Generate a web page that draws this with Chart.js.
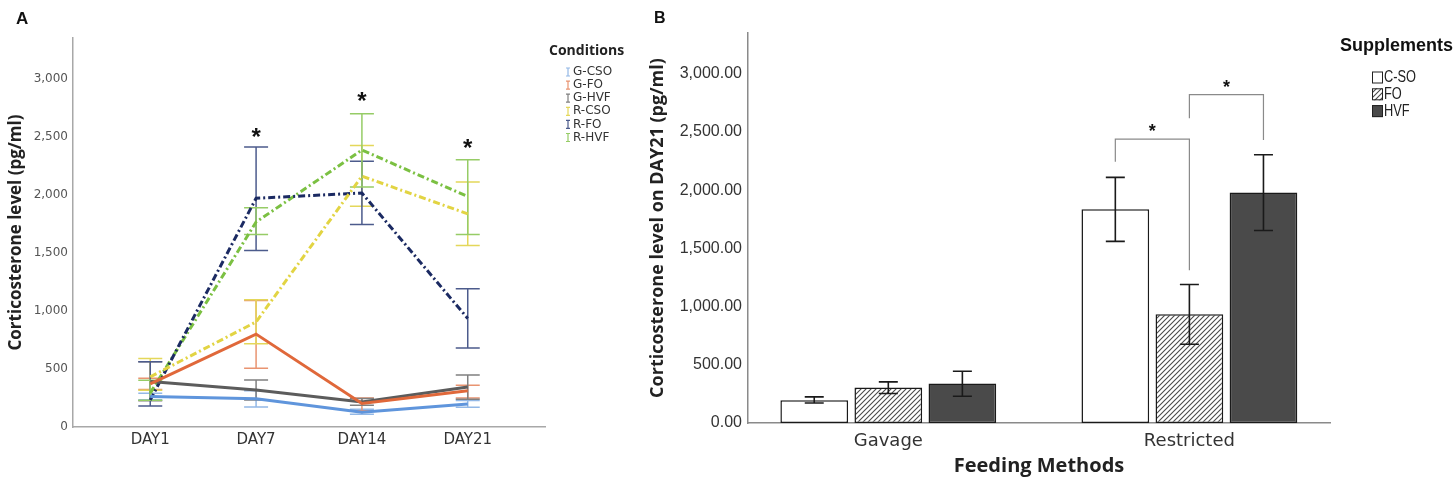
<!DOCTYPE html>
<html>
<head>
<meta charset="utf-8">
<script src="https://cdn.jsdelivr.net/npm/chart.js@4.4.1/dist/chart.umd.min.js"></script>
<style>
  html, body { margin: 0; padding: 0; background: #fff; }
  #wrap { position: relative; width: 1455px; height: 490px; }
  #chartA { position: absolute; left: 0; top: 0; }
  #chartB { position: absolute; left: 640px; top: 0; }
</style>
</head>
<body>
<div id="wrap">
  <canvas id="chartA" width="640" height="490"></canvas>
  <canvas id="chartB" width="815" height="490"></canvas>
</div>
<script>
// ---- panel A data ----
let days       = ['DAY1', 'DAY7', 'DAY14', 'DAY21'];
let conditions = ['G-CSO', 'G-FO', 'G-HVF', 'R-CSO', 'R-FO', 'R-HVF'];
let yTicksA    = [0, 500, 1000, 1500, 2000, 2500, 3000];

let gCsoMean = [262, 243, 128, 198];
let gCsoLow  = [235, 172, 110, 170];
let gCsoHigh = [290, 312, 152, 228];

let gFoMean  = [372, 800, 203, 312];
let gFoLow   = [322, 505, 140, 250];
let gFoHigh  = [420, 1090, 250, 360];

let gHvfMean = [392, 318, 215, 345];
let gHvfLow  = [225, 232, 188, 240];
let gHvfHigh = [562, 404, 245, 447];

let rCsoMean = [432, 905, 2160, 1836];
let rCsoLow  = [316, 717, 1902, 1562];
let rCsoHigh = [590, 1095, 2425, 2110];

let rFoMean  = [232, 1970, 2015, 935];
let rFoLow   = [181, 1521, 1744, 680];
let rFoHigh  = [562, 2412, 2288, 1190];

let rHvfMean = [292, 1765, 2385, 1985];
let rHvfLow  = [230, 1657, 2066, 1657];
let rHvfHigh = [403, 1888, 2698, 2302];

let starDays   = [1, 2, 3];
let starValues = [2540, 2845, 2445];

// ---- panel B data ----
let methods     = ['Gavage', 'Restricted'];
let supplements = ['C-SO', 'FO', 'HVF'];
let yTicksB     = [0, 500, 1000, 1500, 2000, 2500, 3000];

let csoMean = [195, 1837];
let csoLow  = [172, 1560];
let csoHigh = [224, 2110];

let foMean  = [304, 935];
let foLow   = [253, 677];
let foHigh  = [353, 1190];

let hvfMean = [339, 1981];
let hvfLow  = [230, 1654];
let hvfHigh = [445, 2304];

// significance brackets, all in the Restricted group
let bracketFrom     = [0, 1];
let bracketTo       = [1, 2];
let bracketTop      = [2438, 2820];
let bracketLeftEnd  = [2244, 2617];
let bracketRightEnd = [1313, 2430];
let bracketStar     = [2540, 2920];

// ---- styles ----
let lineColors = ['#5f95dc', '#e0683a', '#5c5c5c', '#e2d443', '#1b2a62', '#7bc042'];
let errColors  = ['#93b8e6', '#e99471', '#808080', '#e4d75a', '#4c5b8c', '#96cc66'];

let meansA = [gCsoMean, gFoMean, gHvfMean, rCsoMean, rFoMean, rHvfMean];
let lowsA  = [gCsoLow, gFoLow, gHvfLow, rCsoLow, rFoLow, rHvfLow];
let highsA = [gCsoHigh, gFoHigh, gHvfHigh, rCsoHigh, rFoHigh, rHvfHigh];

let meansB = [csoMean, foMean, hvfMean];
let lowsB  = [csoLow, foLow, hvfLow];
let highsB = [csoHigh, foHigh, hvfHigh];

const SANS = '"DejaVu Sans", sans-serif';
const LIB  = '"Liberation Sans", Arial, sans-serif';
const BOLD = '"Open Sans", "Liberation Sans", sans-serif';

function drawStar(ctx, x, yc, size) {
  ctx.font = 'bold ' + size + 'px ' + LIB;
  ctx.textAlign = 'center';
  ctx.textBaseline = 'alphabetic';
  let m = ctx.measureText('*');
  ctx.fillStyle = '#111';
  ctx.fillText('*', x, yc + (m.actualBoundingBoxAscent - m.actualBoundingBoxDescent) / 2);
}

// ---------------- panel A ----------------
const panelA = {
  id: 'panelA',
  beforeDatasetsDraw(chart) {
    const ctx = chart.ctx, y = chart.scales.y;
    chart.data.datasets.forEach((ds, i) => {
      const meta = chart.getDatasetMeta(i);
      ctx.save();
      ctx.strokeStyle = errColors[i];
      ctx.lineWidth = 1.5;
      meta.data.forEach((pt, j) => {
        const top = y.getPixelForValue(highsA[i][j]);
        const bot = y.getPixelForValue(lowsA[i][j]);
        ctx.beginPath();
        ctx.moveTo(pt.x, top); ctx.lineTo(pt.x, bot);
        ctx.moveTo(pt.x - 12, top); ctx.lineTo(pt.x + 12, top);
        ctx.moveTo(pt.x - 12, bot); ctx.lineTo(pt.x + 12, bot);
        ctx.stroke();
      });
      ctx.restore();
    });
  },
  afterDraw(chart) {
    const ctx = chart.ctx, x = chart.scales.x, y = chart.scales.y;
    ctx.save();
    starDays.forEach((d, k) => drawStar(ctx, x.getPixelForValue(d), y.getPixelForValue(starValues[k]), 24));

    // panel letter
    ctx.fillStyle = '#111';
    ctx.font = 'bold 17px ' + LIB;
    ctx.textAlign = 'left';
    ctx.textBaseline = 'middle';
    ctx.fillText('A', 16, 19);

    // legend
    ctx.font = 'bold 14px ' + BOLD;
    ctx.fillStyle = '#222';
    ctx.fillText('Conditions', 549, 51);
    ctx.font = '12px ' + SANS;
    conditions.forEach((name, i) => {
      const yc = 72 + i * 13.1;
      ctx.strokeStyle = errColors[i];
      ctx.lineWidth = 1.2;
      ctx.beginPath();
      ctx.moveTo(568, yc - 4); ctx.lineTo(568, yc + 4);
      ctx.moveTo(566, yc - 4); ctx.lineTo(570, yc - 4);
      ctx.moveTo(566, yc + 4); ctx.lineTo(570, yc + 4);
      ctx.stroke();
      ctx.fillStyle = '#333';
      ctx.fillText(name, 573, yc);
    });
    ctx.restore();
  }
};

new Chart(document.getElementById('chartA'), {
  type: 'line',
  data: {
    datasets: conditions.map((name, i) => ({
      label: name,
      data: meansA[i].map((v, j) => ({ x: j, y: v })),
      borderColor: lineColors[i],
      borderWidth: 3,
      borderDash: i >= 3 ? [7, 3, 2, 3] : [],
      pointRadius: 0,
      fill: false,
      tension: 0
    }))
  },
  options: {
    responsive: false,
    animation: false,
    layout: { padding: { left: 0, right: 95, top: 38, bottom: 0 } },
    plugins: { legend: { display: false }, tooltip: { enabled: false } },
    scales: {
      x: {
        type: 'linear',
        offset: false,
        min: -0.73,
        max: 3.73,
        afterBuildTicks: s => { s.ticks = days.map((d, j) => ({ value: j })); },
        afterFit: s => { s.height = 63; },
        ticks: { callback: v => days[v], font: { family: SANS, size: 15 }, color: '#333', padding: 4, maxRotation: 0 },
        grid: { display: false, drawTicks: false },
        border: { color: '#a8a8a8', width: 1.5 }
      },
      y: {
        min: 0,
        max: 3350,
        afterBuildTicks: s => { s.ticks = yTicksA.map(v => ({ value: v })); },
        afterFit: s => { s.width = 73; },
        ticks: { callback: v => v.toLocaleString('en-US'), font: { family: SANS, size: 12 }, color: '#555', padding: 5 },
        grid: { display: false, drawTicks: false },
        border: { color: '#a8a8a8', width: 1.5 },
        title: {
          display: true,
          text: 'Corticosterone level (pg/ml)',
          font: { family: BOLD, size: 17, weight: 'bold' },
          color: '#222',
          padding: { top: 6, bottom: 0 }
        }
      }
    }
  },
  plugins: [panelA]
});

// ---------------- panel B ----------------
const ctxB = document.getElementById('chartB').getContext('2d');

function hatch(ctx) {
  const c = document.createElement('canvas');
  c.width = 5; c.height = 5;
  const g = c.getContext('2d');
  g.fillStyle = '#fff';
  g.fillRect(0, 0, 5, 5);
  g.strokeStyle = '#4a4a4a';
  g.lineWidth = 1.1;
  g.beginPath();
  g.moveTo(0, 5); g.lineTo(5, 0);
  g.moveTo(-1, 1); g.lineTo(1, -1);
  g.moveTo(4, 6); g.lineTo(6, 4);
  g.stroke();
  return ctx.createPattern(c, 'repeat');
}
const hatchFill = hatch(ctxB);
let barFills = ['#ffffff', hatchFill, '#4a4a4a'];

const panelB = {
  id: 'panelB',
  afterDatasetsDraw(chart) {
    const ctx = chart.ctx, y = chart.scales.y;
    ctx.save();
    ctx.strokeStyle = '#1a1a1a';
    ctx.lineWidth = 1.6;
    chart.data.datasets.forEach((ds, i) => {
      chart.getDatasetMeta(i).data.forEach((bar, j) => {
        const top = y.getPixelForValue(highsB[i][j]);
        const bot = y.getPixelForValue(lowsB[i][j]);
        ctx.beginPath();
        ctx.moveTo(bar.x, top); ctx.lineTo(bar.x, bot);
        ctx.moveTo(bar.x - 9.5, top); ctx.lineTo(bar.x + 9.5, top);
        ctx.moveTo(bar.x - 9.5, bot); ctx.lineTo(bar.x + 9.5, bot);
        ctx.stroke();
      });
    });

    // brackets
    ctx.strokeStyle = '#8a8a8a';
    ctx.lineWidth = 1.2;
    bracketFrom.forEach((f, k) => {
      const x1 = chart.getDatasetMeta(f).data[1].x;
      const x2 = chart.getDatasetMeta(bracketTo[k]).data[1].x;
      const yt = y.getPixelForValue(bracketTop[k]);
      ctx.beginPath();
      ctx.moveTo(x1, y.getPixelForValue(bracketLeftEnd[k]));
      ctx.lineTo(x1, yt);
      ctx.lineTo(x2, yt);
      ctx.lineTo(x2, y.getPixelForValue(bracketRightEnd[k]));
      ctx.stroke();
      drawStar(ctx, (x1 + x2) / 2, y.getPixelForValue(bracketStar[k]), 18);
    });
    ctx.restore();
  },
  afterDraw(chart) {
    const ctx = chart.ctx;
    ctx.save();
    ctx.fillStyle = '#111';
    ctx.font = 'bold 16px ' + LIB;
    ctx.textAlign = 'left';
    ctx.textBaseline = 'middle';
    ctx.fillText('B', 14, 19);

    ctx.font = 'bold 18px ' + LIB;
    ctx.fillText('Supplements', 700, 46);
    ctx.font = '16px ' + LIB;
    supplements.forEach((name, i) => {
      const yc = 77.5 + i * 16.8;
      ctx.fillStyle = barFills[i];
      ctx.fillRect(732, yc - 6, 11, 12);
      ctx.strokeStyle = '#222';
      ctx.lineWidth = 1;
      ctx.strokeRect(732.5, yc - 5.5, 10, 11);
      ctx.fillStyle = '#222';
      // condensed look of the original legend labels
      ctx.save();
      ctx.translate(744, yc + 0.5);
      ctx.scale(0.8, 1);
      ctx.fillText(name, 0, 0);
      ctx.restore();
    });
    ctx.restore();
  }
};

new Chart(ctxB, {
  type: 'bar',
  data: {
    datasets: supplements.map((name, i) => ({
      label: name,
      data: meansB[i].map((v, j) => ({ x: j, y: v })),
      backgroundColor: barFills[i],
      borderColor: '#1a1a1a',
      borderWidth: 1.5,
      borderSkipped: false,
      barPercentage: 0.914,
      categoryPercentage: 0.738
    }))
  },
  options: {
    responsive: false,
    animation: false,
    layout: { padding: { left: 0, right: 125, top: 33, bottom: 0 } },
    plugins: { legend: { display: false }, tooltip: { enabled: false } },
    scales: {
      x: {
        type: 'linear',
        offset: false,
        min: -0.466,
        max: 1.467,
        afterBuildTicks: s => { s.ticks = methods.map((m, j) => ({ value: j })); },
        afterFit: s => { s.height = 67; },
        ticks: { callback: v => methods[v], font: { family: SANS, size: 18 }, color: '#333', padding: 8, maxRotation: 0 },
        grid: { display: false, drawTicks: false },
        border: { color: '#8a8a8a', width: 1.5 },
        title: {
          display: true,
          text: 'Feeding Methods',
          font: { family: BOLD, size: 20, weight: 'bold' },
          color: '#222',
          padding: { top: 0, bottom: 12 }
        }
      },
      y: {
        min: 0,
        max: 3350,
        afterBuildTicks: s => { s.ticks = yTicksB.map(v => ({ value: v })); },
        afterFit: s => { s.width = 108; },
        ticks: {
          callback: v => v.toLocaleString('en-US', { minimumFractionDigits: 2, maximumFractionDigits: 2 }),
          font: { family: LIB, size: 16 },
          color: '#333',
          padding: 6
        },
        grid: { display: false, drawTicks: false },
        border: { color: '#8a8a8a', width: 1.5 },
        title: {
          display: true,
          text: 'Corticosterone level on DAY21 (pg/ml)',
          font: { family: BOLD, size: 18, weight: 'bold' },
          color: '#222',
          padding: { top: 7, bottom: 0 }
        }
      }
    }
  },
  plugins: [panelB]
});
</script>
</body>
</html>
